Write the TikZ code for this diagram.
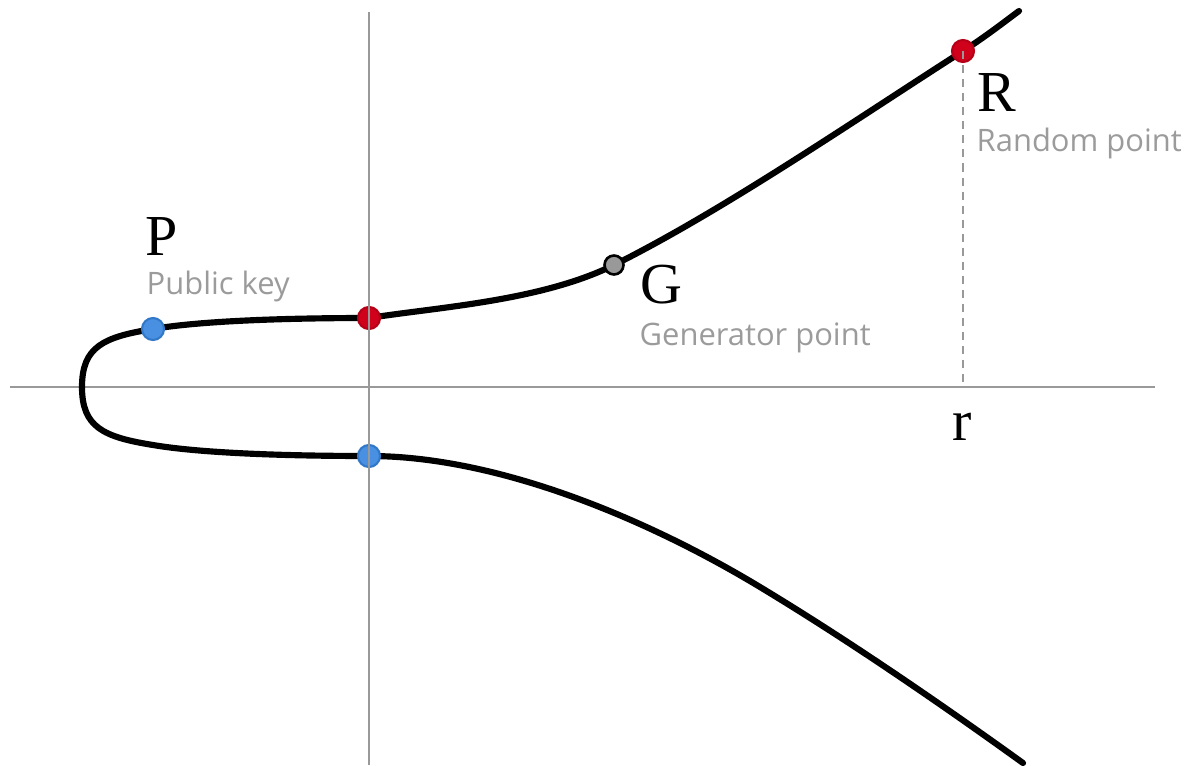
\documentclass[tikz,border=0pt]{standalone}
\usepackage{fontspec}
\setmainfont{Liberation Serif}
\newfontfamily\notefont{Open Sans}
\definecolor{axisgray}{HTML}{999999}
\definecolor{notegray}{HTML}{9B9B9B}
\definecolor{ptblue}{HTML}{4A90E2}
\definecolor{ptblueedge}{HTML}{3278C8}
\definecolor{ptred}{HTML}{D0021B}
\definecolor{ptrededge}{HTML}{B50017}
\tikzset{
    axisline/.style={draw=axisgray, line width=0.6pt},
    ecurve/.style={line width=1.75pt, line cap=round, line join=round},
    bluept/.style={fill=ptblue, draw=ptblueedge, line width=0.6pt},
    redpt/.style={fill=ptred, draw=ptrededge, line width=0.6pt},
    genpt/.style={fill=axisgray, draw=black, line width=0.75pt},
    letter/.style={font=\fontsize{16.5}{18}\selectfont, inner sep=0pt},
    note/.style={font=\notefont\fontsize{8.8}{10}\selectfont, text=notegray, inner sep=0pt}
}
\begin{document}
\begin{tikzpicture}
    \useasboundingbox (-3.69,-3.78) rectangle (8.21,3.87);
    \coordinate (O) at (0,0);
    \coordinate (Tip) at (-2.87,0);
    \coordinate (Pp) at (-2.16,0.58);
    \coordinate (Pm) at (-2.16,-0.58);
    \coordinate (Ya) at (0,0.69);
    \coordinate (Yb) at (0,-0.69);
    \coordinate (Gp) at (2.45,1.22);
    \coordinate (Rp) at (5.94,3.36);
    \coordinate (Rx) at (5.94,0);
    \coordinate (Xl) at (-3.59,0);
    \coordinate (Xr) at (7.86,0);
    \coordinate (Yt) at (0,3.75);
    \coordinate (Ybot) at (0,-3.78);
    \draw[axisline] (Xl)--(Xr);
    % upper branch
    \draw[ecurve] (Tip)
        .. controls (-2.87,0.40) and (-2.66,0.50) .. (Pp)
        .. controls (-1.71,0.657) and (-0.9,0.69) .. (Ya)
        .. controls (0.7,0.80) and (1.72,0.86) .. (Gp)
        .. controls (3.55,1.77) and (4.84,2.656) .. (Rp)
        .. controls (6.14,3.488) and (6.3,3.61) .. (6.5,3.76);
    % lower branch
    \draw[ecurve] (Tip)
        .. controls (-2.87,-0.40) and (-2.66,-0.50) .. (Pm)
        .. controls (-1.71,-0.657) and (-0.9,-0.69) .. (Yb)
        .. controls (1.3,-0.69) and (2.8,-1.33) .. (3.91,-2.0)
        .. controls (4.81,-2.543) and (5.74,-3.184) .. (6.54,-3.76);
    \fill[bluept] (Pp) circle (0.11);
    \fill[redpt] (Ya) circle (0.11);
    \fill[bluept] (Yb) circle (0.11);
    \fill[genpt] (Gp) circle (0.095);
    \fill[redpt] (Rp) circle (0.11);
    \draw[axisline] (Yt)--(Ybot);
    \draw[axisgray, line width=0.45pt, dash pattern=on 2.3pt off 1.7pt] (Rp)--(Rx);
    \node[letter, anchor=base west] (P) at (-2.24,1.32) {P};
    \node[note, anchor=base west] (Pnote) at (-2.23,0.93) {Public key};
    \node[letter, anchor=base west] (G) at (2.71,0.84) {G};
    \node[note, anchor=base west] (Gnote) at (2.70,0.42) {Generator point};
    \node[letter, anchor=base west] (R) at (6.08,2.75) {R};
    \node[note, anchor=base west] (Rnote) at (6.07,2.35) {Random point};
    \node[letter, anchor=base] (r) at (5.93,-0.53) {r};
\end{tikzpicture}
\end{document}
